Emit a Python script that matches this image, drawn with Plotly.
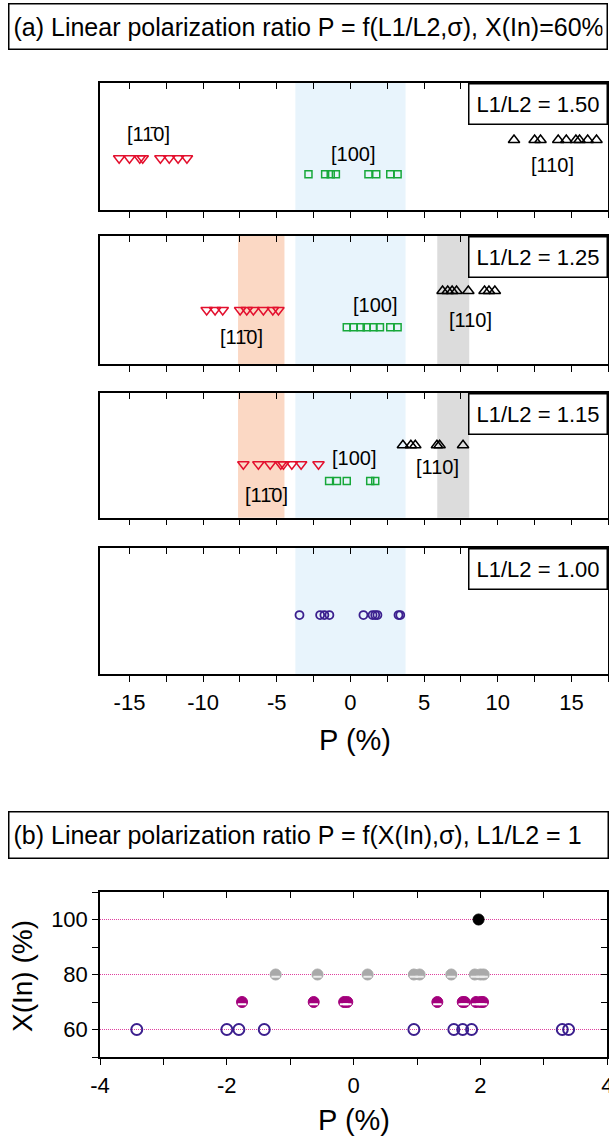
import plotly.graph_objects as go

W, H = 609, 1140
FONT = "Liberation Sans, Arial, sans-serif"

# ---------------- data (P in %) ----------------
ratios = ["L1/L2 = 1.50", "L1/L2 = 1.25", "L1/L2 = 1.15", "L1/L2 = 1.00"]

p150_1m10 = [-15.7, -15.0, -14.3, -14.1, -12.9, -12.3, -11.7, -11.1]
p150_100 = [-2.85, -1.72, -1.34, -0.99, 1.22, 1.75, 2.7, 3.2]
p150_110 = [11.1, 12.5, 12.9, 14.1, 14.65, 15.3, 15.55, 16.1, 16.7]

p125_1m10 = [-9.76, -9.19, -8.67, -7.49, -7.04, -6.59, -5.91, -5.27, -4.89]
p125_100 = [-0.25, 0.2, 0.7, 1.1, 1.56, 2.0, 2.7, 3.2]
p125_110 = [6.25, 6.6, 6.9, 7.2, 8.0, 9.1, 9.4, 9.8]

p115_1m10 = [-7.27, -6.25, -5.45, -4.73, -4.55, -3.98, -3.35, -2.17]
p115_100 = [-1.45, -0.92, -0.25, 1.34, 1.68]
p115_110 = [3.56, 4.1, 4.4, 5.87, 6.05, 7.64]

p100_all = [-3.46, -2.06, -1.77, -1.43, 0.88, 1.5, 1.68, 1.83, 3.26, 3.38]

band_100 = [-3.74, 3.74]
band_1m10 = [-7.63, -4.48]
band_110 = [5.89, 8.06]

top_tickvals = [-15, -10, -5, 0, 5, 10, 15]
top_ticktext = ["-15", "-10", "-5", "0", "5", "10", "15"]

# panel (b)
xin_levels = [60, 70, 80, 100]
pb_60 = [-3.42, -2.0, -1.81, -1.41, 0.95, 1.58, 1.72, 1.86, 3.29, 3.39]
pb_70 = [-1.76, -0.63, -0.15, -0.10, 1.32, 1.72, 1.75, 1.93, 2.0, 2.04]
pb_80 = [-1.23, -0.57, 0.22, 0.95, 1.04, 1.54, 1.91, 2.0, 2.05]
pb_100 = [1.97]
b_tickvals = [-4, -2, 0, 2, 4]
b_ticktext = ["-4", "-2", "0", "2", "4"]

# ---------------- styling ----------------
RED = "#e3102e"
GREEN = "#17a83a"
BLACK = "#000000"
PURPLE = "#3b1f8e"
MAGENTA = "#a3007c"
GRAY = "#a9a9a9"

def ypx(p):
    return 1 - p / H

panel_px = [(82.7, 210.0), (236.0, 364.0), (392.7, 517.7), (547.7, 674.3)]
xdom_top = [100 / W, 608.3 / W]

rows = [
    {"1m10": 0.406, "100": 0.280, "110": 0.550},
    {"1m10": 0.422, "100": 0.287, "110": 0.570},
    {"1m10": 0.427, "100": 0.294, "110": 0.580},
]
series = [
    (p150_1m10, p150_100, p150_110),
    (p125_1m10, p125_100, p125_110),
    (p115_1m10, p115_100, p115_110),
]
LBL_1m10 = "[11\u03040]"
labels = [
    [(LBL_1m10, -13.7, 0.60), ("[100]", 0.2, 0.44), ("[110]", 13.7, 0.354)],
    [(LBL_1m10, -7.38, 0.213), ("[100]", 1.68, 0.46), ("[110]", 8.13, 0.344)],
    [(LBL_1m10, -5.67, 0.18), ("[100]", 0.25, 0.475), ("[110]", 5.94, 0.403)],
]

fig = go.Figure()
layout = dict(
    width=W, height=H, margin=dict(l=0, r=0, t=0, b=0),
    paper_bgcolor="white", plot_bgcolor="rgba(0,0,0,0)",
    showlegend=False, font=dict(family=FONT, color="black"),
)
shapes = []
annotations = []

def add_pts(xs, yv, sym, color, size, xa, ya, lw=1.5):
    fig.add_trace(go.Scatter(
        x=xs, y=[yv] * len(xs), mode="markers", xaxis=xa, yaxis=ya,
        marker=dict(symbol=sym, size=size, color=color,
                    line=dict(color=color, width=lw)),
        hoverinfo="x"))

for i in range(4):
    n = i + 1
    xa = "x" if n == 1 else f"x{n}"
    ya = "y" if n == 1 else f"y{n}"
    top, bot = panel_px[i]
    dom = [ypx(bot), ypx(top)]
    common_x = dict(range=[-17, 17.5], tickmode="array", tickvals=top_tickvals,
                    ticktext=top_ticktext, showgrid=False,
                    zeroline=False, ticklen=6, tickwidth=1, tickcolor="black",
                    automargin=False)
    layout[f"xaxis{'' if n == 1 else n}"] = dict(
        domain=xdom_top, anchor=ya, showline=True, linecolor="black",
        linewidth=1.5, mirror=True, ticks="outside",
        minor=dict(ticks="outside", tick0=0, dtick=2.5, ticklen=6,
                   tickwidth=1, tickcolor="black"),
        showticklabels=(n == 4), tickfont=dict(size=22, family=FONT),
        ticklabelstandoff=2, **common_x)
    layout[f"xaxis{n + 4}"] = dict(
        overlaying=xa, side="top", anchor=ya, ticks="inside",
        minor=dict(ticks="inside", tick0=0, dtick=2.5, ticklen=6,
                   tickwidth=1, tickcolor="black"),
        showticklabels=False, showline=False, **common_x)
    layout[f"yaxis{'' if n == 1 else n}"] = dict(
        domain=dom, anchor=xa, range=[0, 1], showline=True, linecolor="black",
        linewidth=1.5, mirror=True, ticks="", showticklabels=False,
        showgrid=False, zeroline=False, automargin=False)
    fig.add_trace(go.Scatter(x=[], y=[], xaxis=f"x{n + 4}", yaxis=ya,
                             hoverinfo="skip"))

    bands = [(band_100, "#e8f4fc")]
    if n in (2, 3):
        bands += [(band_1m10, "#fbd8c4"), (band_110, "#dcdcdc")]
    for (b0, b1), col in bands:
        shapes.append(dict(type="rect", xref=xa, yref=f"{ya} domain",
                           x0=b0, x1=b1, y0=0, y1=1, fillcolor=col,
                           line=dict(width=0), layer="below"))

    if n <= 3:
        r = rows[i]
        s1m10, s100, s110 = series[i]
        add_pts(s1m10, r["1m10"], "triangle-down-open", RED, 10, xa, ya)
        add_pts(s100, r["100"], "square-open", GREEN, 7, xa, ya)
        add_pts(s110, r["110"], "triangle-up-open", BLACK, 10, xa, ya)
        for txt, lx, ly in labels[i]:
            annotations.append(dict(text=txt, x=lx, y=ly, xref=xa,
                                    yref=f"{ya} domain", showarrow=False,
                                    xanchor="center", yanchor="middle",
                                    font=dict(size=20, family=FONT)))
    else:
        add_pts(p100_all, 0.468, "circle-open", PURPLE, 8, xa, ya, lw=1.8)

    annotations.append(dict(
        text=ratios[i], xref=f"{xa} domain", yref=f"{ya} domain",
        x=1, y=1, xanchor="right", yanchor="top", showarrow=False,
        bordercolor="black", borderwidth=1.5, borderpad=4, bgcolor="white",
        width=129, height=31, font=dict(size=22, family=FONT)))

# ---------------- panel (b) ----------------
btop, bbot = 892.0, 1057.0
layout["xaxis9"] = dict(
    domain=[100 / W, 607.3 / W], anchor="y9", range=[-4, 4],
    tickmode="array", tickvals=b_tickvals, ticktext=b_ticktext,
    showline=True, linecolor="black", linewidth=1.5, mirror=True,
    ticks="outside", ticklen=6, tickwidth=1, tickcolor="black",
    minor=dict(ticks="outside", tick0=0, dtick=1, ticklen=6, tickwidth=1,
               tickcolor="black"),
    showgrid=False, zeroline=False, tickfont=dict(size=22, family=FONT),
    ticklabelstandoff=2, ticklabeloverflow="allow", automargin=False)
layout["xaxis10"] = dict(
    overlaying="x9", side="top", anchor="y9", range=[-4, 4],
    tickmode="array", tickvals=b_tickvals,
    ticks="inside", ticklen=6, tickwidth=1, tickcolor="black",
    minor=dict(ticks="inside", tick0=0, dtick=1, ticklen=6, tickwidth=1,
               tickcolor="black"),
    showticklabels=False, showgrid=False, zeroline=False, showline=False,
    automargin=False)
layout["yaxis9"] = dict(
    domain=[ypx(bbot), ypx(btop)], anchor="x9", range=[50, 110], tick0=0,
    dtick=20, showline=True, linecolor="black", linewidth=1.5, mirror=True,
    ticks="outside", ticklen=6, tickwidth=1, tickcolor="black",
    minor=dict(ticks="outside", tick0=0, dtick=10, ticklen=6, tickwidth=1,
               tickcolor="black", showgrid=False),
    showgrid=True, gridcolor="#e0409f", griddash="1px,1px", gridwidth=1,
    zeroline=False, tickfont=dict(size=22, family=FONT), automargin=False)
layout["yaxis10"] = dict(
    overlaying="y9", side="right", anchor="x9", range=[50, 110], tick0=0,
    dtick=20, ticks="inside", ticklen=6, tickwidth=1, tickcolor="black",
    minor=dict(ticks="inside", tick0=0, dtick=10, ticklen=6, tickwidth=1,
               tickcolor="black"),
    showticklabels=False, showgrid=False, zeroline=False, showline=False,
    automargin=False)
fig.add_trace(go.Scatter(x=[], y=[], xaxis="x10", yaxis="y9", hoverinfo="skip"))
fig.add_trace(go.Scatter(x=[], y=[], xaxis="x9", yaxis="y10", hoverinfo="skip"))

def add_b(xs, level, sym, color, fill, lw=2):
    fig.add_trace(go.Scatter(
        x=xs, y=[level] * len(xs), mode="markers", xaxis="x9", yaxis="y9",
        marker=dict(symbol=sym, size=11, color=fill,
                    line=dict(color=color, width=lw)),
        hoverinfo="x+y"))

add_b(pb_60, xin_levels[0], "circle-open", PURPLE, PURPLE)
add_b(pb_70, xin_levels[1], "circle", MAGENTA, MAGENTA, 1)
add_b(pb_80, xin_levels[2], "circle", GRAY, GRAY, 1)
add_b(pb_100, xin_levels[3], "circle", BLACK, BLACK, 1)
# half-filled look: light stripe across the lower half of each marker
STRIPE_SHIFT = 0.8
for xs, lev, col in ((pb_70, xin_levels[1], "white"), (pb_80, xin_levels[2], "#ececec")):
    fig.add_trace(go.Scatter(
        x=xs, y=[lev - STRIPE_SHIFT] * len(xs), mode="markers", xaxis="x9",
        yaxis="y9",
        marker=dict(symbol="line-ew", size=6, line=dict(color=col, width=2)),
        hoverinfo="skip"))

# ---------------- titles ----------------
annotations.append(dict(
    text="(a) Linear polarization ratio P = f(L1/L2,\u03c3), X(In)=60%",
    xref="paper", yref="paper", x=8 / W, y=ypx(3), xanchor="left",
    yanchor="top", align="left", showarrow=False, bordercolor="black",
    borderwidth=1.5, borderpad=4, bgcolor="white", width=589, height=36,
    font=dict(size=25, family=FONT)))
annotations.append(dict(
    text="(b) Linear polarization ratio P = f(X(In),\u03c3), L1/L2 = 1",
    xref="paper", yref="paper", x=8 / W, y=ypx(811), xanchor="left",
    yanchor="top", align="left", showarrow=False, bordercolor="black",
    borderwidth=1.5, borderpad=4, bgcolor="white", width=590, height=37,
    font=dict(size=25, family=FONT)))

# axis titles
annotations.append(dict(text="P (%)", xref="paper", yref="paper",
                        x=355 / W, y=ypx(740), xanchor="center",
                        yanchor="middle", showarrow=False,
                        font=dict(size=29, family=FONT)))
annotations.append(dict(text="P (%)", xref="paper", yref="paper",
                        x=354 / W, y=ypx(1120), xanchor="center",
                        yanchor="middle", showarrow=False,
                        font=dict(size=29, family=FONT)))
annotations.append(dict(text="X(In) (%)", xref="paper", yref="paper",
                        x=22 / W, y=ypx(976), xanchor="center",
                        yanchor="middle", textangle=-90, showarrow=False,
                        font=dict(size=28, family=FONT)))

layout["shapes"] = shapes
layout["annotations"] = annotations
fig.update_layout(**layout)
fig.write_html(
    "out.html",
    config={"displayModeBar": False},
    post_script="document.body.style.margin='0px';"
                "document.body.style.overflow='hidden';")
